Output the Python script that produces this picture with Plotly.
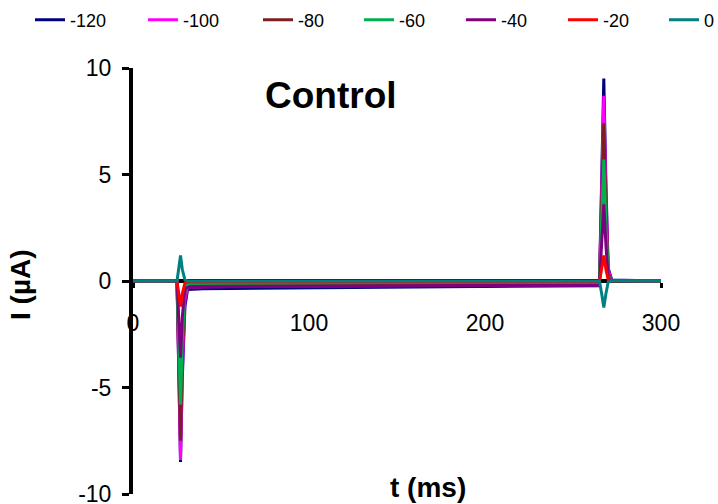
import plotly.graph_objects as go

# time points (ms)
t_ms = [0, 25, 26, 27, 28, 29.5, 31, 40, 70, 100, 150, 200, 250, 265, 266.3, 267.5, 268.7, 270, 272, 300]

voltages = ["-120", "-100", "-80", "-60", "-40", "-20", "0"]

i_m120 = [0, 0, -4.2, -8.5, -4.6, -1.2, -0.40, -0.36, -0.34, -0.32, -0.30, -0.27, -0.24, -0.22, 4.8, 9.5, 4.6, 0.6, 0.05, 0]
i_m100 = [0, 0, -4.1, -8.4, -4.2, -0.9, -0.30, -0.27, -0.25, -0.24, -0.22, -0.20, -0.19, -0.18, 4.4, 8.7, 4.2, 0.5, 0.04, 0]
i_m80 = [0, 0, -3.7, -7.5, -3.6, -0.5, -0.20, -0.17, -0.15, -0.14, -0.13, -0.12, -0.11, -0.10, 3.7, 7.4, 3.5, 0.35, 0.03, 0]
i_m60 = [0, 0, -2.9, -5.8, -2.8, -0.35, -0.12, -0.10, -0.09, -0.08, -0.08, -0.07, -0.07, -0.07, 2.9, 5.7, 2.7, 0.25, 0.02, 0]
i_m40 = [0, 0, -1.8, -3.6, -1.7, -0.35, -0.30, -0.28, -0.26, -0.25, -0.23, -0.21, -0.20, -0.20, 1.8, 3.6, 1.7, 0.15, 0.01, 0]
i_m20 = [0, 0, -0.6, -1.2, -0.6, -0.10, -0.05, -0.05, -0.05, -0.05, -0.05, -0.05, -0.05, -0.05, 0.6, 1.2, 0.55, 0.05, 0, 0]
i_0 = [0, 0, 0.6, 1.2, 0.55, 0.05, 0, 0, 0, 0, 0, 0, 0, 0, -0.6, -1.25, -0.6, -0.05, 0, 0]

series = [i_m120, i_m100, i_m80, i_m60, i_m40, i_m20, i_0]
colors = ["#000080", "#FF00FF", "#7B1F1F", "#00B050", "#800080", "#FF0000", "#008080"]

x_ticks = [0, 100, 200, 300]
y_ticks = [-10, -5, 0, 5, 10]
y_tick_text = ["-10", "-5", "0", "5", "10"]

W, H = 718, 504
l, r, t, b = 133, 57, 68, 10
pw, ph = W - l - r, H - t - b

def px2paper(px, py):
    return (px - l) / pw, (H - py - b) / ph

# page x where each legend text starts in the reference
legend_text_x = [70, 183, 298, 399, 501, 603, 704]

fig = go.Figure()
for k, (name, ys, c) in enumerate(zip(voltages, series, colors)):
    lg = "legend" if k == 0 else f"legend{k+1}"
    fig.add_trace(go.Scatter(x=t_ms, y=ys, mode="lines", name=name, legend=lg,
                             line=dict(color=c, width=3)))

legend_layout = {}
for k, tx in enumerate(legend_text_x):
    lg = "legend" if k == 0 else f"legend{k+1}"
    legend_layout[lg] = dict(
        orientation="h", x=(tx - 40) / W, xanchor="left",
        y=(H - 20) / H, yanchor="middle",
        xref="container", yref="container", font=dict(size=18),
        bgcolor="rgba(0,0,0,0)", borderwidth=0)

ann_specs = [
    ("<b>Control</b>", 331, 95, 37, 0),
    ("<b>t (ms)</b>", 428, 487, 28, 0),
    ("<b>I (µA)</b>", 20, 285, 28, -90),
]
annotations = []
for txt, px, py, fs, ang in ann_specs:
    ax, ay = px2paper(px, py)
    annotations.append(dict(text=txt, x=ax, y=ay, xref="paper", yref="paper",
                            xanchor="center", yanchor="middle", showarrow=False,
                            font=dict(size=fs), textangle=ang))

fig.update_layout(
    width=W, height=H,
    margin=dict(l=l, r=r, t=t, b=b, autoexpand=False),
    paper_bgcolor="white", plot_bgcolor="white",
    font=dict(family="Arial, Liberation Sans, sans-serif", color="black"),
    showlegend=True,
    xaxis=dict(range=[0, 300], tickvals=x_ticks, showgrid=False, zeroline=False,
               showline=True, linecolor="black", linewidth=4,
               ticks="outside", ticklen=5, tickwidth=3, tickcolor="black",
               tickfont=dict(size=23), anchor="free", position=0.5,
               ticklabelstandoff=15, layer="below traces"),
    yaxis=dict(range=[-10, 10], tickvals=y_ticks, ticktext=y_tick_text, showgrid=False, zeroline=False,
               showline=True, linecolor="black", linewidth=4,
               ticks="outside", ticklen=7, tickwidth=3, tickcolor="black",
               tickfont=dict(size=23), ticklabelstandoff=6, layer="below traces",
               ticklabeloverflow="allow"),
    annotations=annotations,
    **legend_layout,
)

fig.write_html(
    "out.html",
    config={"displayModeBar": False},
    post_script="document.body.style.margin='0';document.body.style.overflow='hidden';",
)
